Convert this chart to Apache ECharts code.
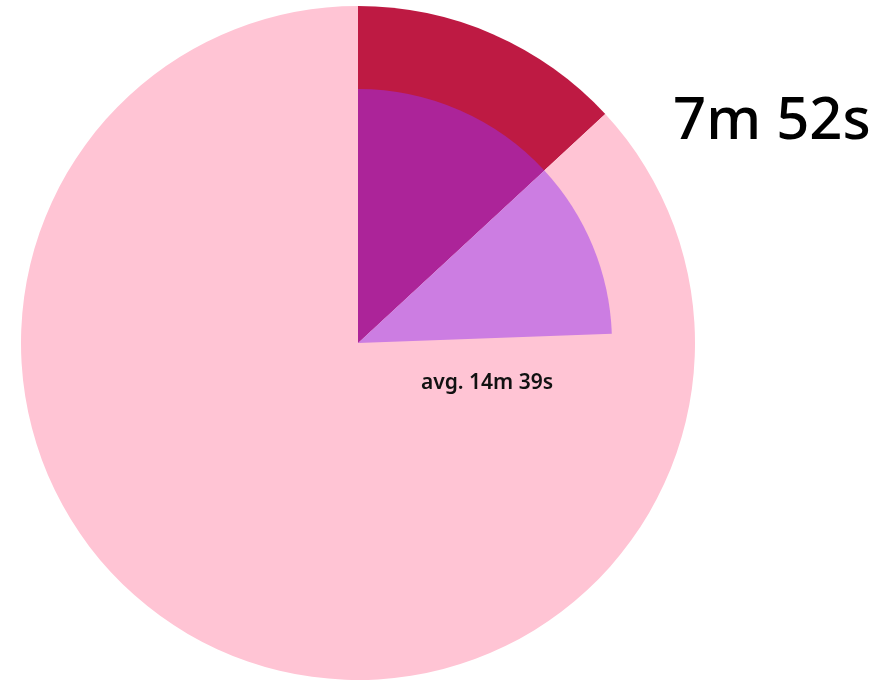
<!DOCTYPE html>
<html>
<head>
<meta charset="utf-8">
<script src="https://cdn.jsdelivr.net/npm/echarts@6/dist/echarts.min.js"></script>
<style>
  html, body { margin: 0; padding: 0; background: #ffffff; }
  #chart { width: 884px; height: 681px; }
</style>
</head>
<body>
<div id="chart"></div>
<script>
// Time spent out of one hour, in seconds
const hourSeconds = 3600;
const sessionSeconds = 472;        // 7m 52s
const averageSeconds = 879;        // avg. 14m 39s

const outerNames = ['session', 'rest of hour'];
const outerValues = [sessionSeconds, hourSeconds - sessionSeconds];
const outerColors = ['#BE1A43', '#FFC4D4'];

const innerNames = ['session', 'average gap', 'rest of hour'];
const innerValues = [sessionSeconds, averageSeconds - sessionSeconds, hourSeconds - averageSeconds];
const innerColors = ['#AC2499', '#CC7DE2', 'rgba(0,0,0,0)'];

function fmt(sec) {
  const m = Math.floor(sec / 60);
  const s = sec % 60;
  return m + 'm ' + s + 's';
}

const fontStack = '"Noto Sans", "Open Sans", sans-serif';

const chart = echarts.init(document.getElementById('chart'), null, { renderer: 'canvas' });

function slices(names, values, colors) {
  return values.map((v, i) => ({
    name: names[i],
    value: v,
    itemStyle: { color: colors[i] }
  }));
}

chart.setOption({
  animation: false,
  backgroundColor: '#ffffff',
  series: [
    {
      type: 'pie',
      center: [358, 343],
      radius: [0, 337],
      startAngle: 90,
      clockwise: true,
      silent: true,
      label: { show: false },
      labelLine: { show: false },
      itemStyle: { borderWidth: 0 },
      data: slices(outerNames, outerValues, outerColors)
    },
    {
      type: 'pie',
      center: [358, 343],
      radius: [0, 254],
      startAngle: 90,
      clockwise: true,
      silent: true,
      label: { show: false },
      labelLine: { show: false },
      itemStyle: { borderWidth: 0 },
      data: slices(innerNames, innerValues, innerColors)
    }
  ],
  graphic: [
    {
      type: 'text',
      z: 100,
      left: 673,
      top: 93,
      style: {
        text: fmt(sessionSeconds),
        font: '500 58px ' + fontStack,
        fill: '#000000'
      }
    },
    {
      type: 'text',
      z: 100,
      x: 487,
      y: 383,
      style: {
        text: 'avg. ' + fmt(averageSeconds),
        font: '600 21px ' + fontStack,
        fill: '#111111',
        align: 'center',
        verticalAlign: 'middle'
      }
    }
  ]
});
</script>
</body>
</html>
